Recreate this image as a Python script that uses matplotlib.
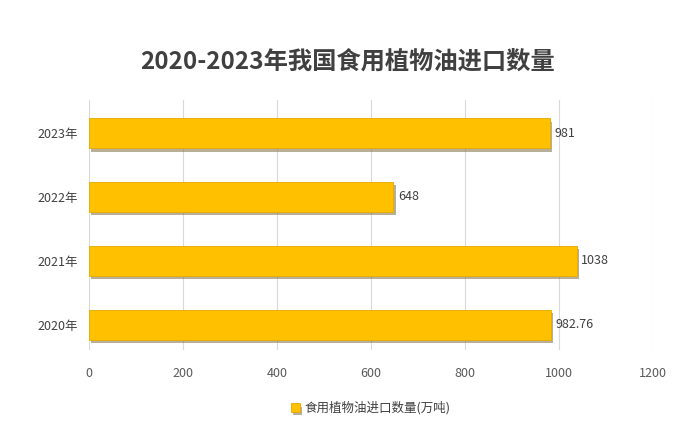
import matplotlib
matplotlib.use('Agg')
import matplotlib.pyplot as plt
import matplotlib.patheffects as pe

plt.rcParams['font.family'] = ['Noto Sans CJK SC', 'DejaVu Sans']

# 数据
years = ['2020年', '2021年', '2022年', '2023年']
values = [982.76, 1038, 648, 981]
value_labels = ['982.76', '1038', '648', '981']
xticks = [0, 200, 400, 600, 800, 1000, 1200]

fig = plt.figure(figsize=(6.75, 4.29), dpi=100)
ax = fig.add_axes([0.132, 0.184, 0.835, 0.583])

bars = ax.barh(range(len(years)), values, height=0.47, color='#FFC000',
               edgecolor='#E8A800', linewidth=0.6, zorder=3)
# 阴影效果
for b in bars:
    b.set_path_effects([pe.SimplePatchShadow(offset=(1.5, -2.5), shadow_rgbFace='#8a7a55', alpha=0.6),
                        pe.Normal()])

for i, (v, lab) in enumerate(zip(values, value_labels)):
    ax.text(v + 10, i, lab, va='center', ha='left', fontsize=9, color='#404040')

ax.set_xlim(0, 1200)
ax.set_ylim(-0.4, 3.52)
ax.set_xticks(xticks)
ax.set_yticks(range(len(years)))
ax.set_yticklabels(years)
ax.tick_params(axis='x', length=0, pad=12, labelsize=9, labelcolor='#595959')
ax.tick_params(axis='y', length=0, pad=8, labelsize=9, labelcolor='#404040')
ax.grid(axis='x', color='#D9D9D9', linewidth=0.8, zorder=0)
for s in ax.spines.values():
    s.set_visible(False)

fig.text(0.515, 0.855, '2020-2023年我国食用植物油进口数量', ha='center', va='center',
         fontsize=17.5, fontweight='bold', color='#404040')

ax.legend([bars[0]], ['食用植物油进口数量(万吨)'], loc='center', bbox_to_anchor=(0.5, -0.232),
          frameon=False, fontsize=9, handlelength=0.7, handleheight=0.7,
          handletextpad=0.4, labelcolor='#404040')

fig.savefig('out.png', dpi=100)
